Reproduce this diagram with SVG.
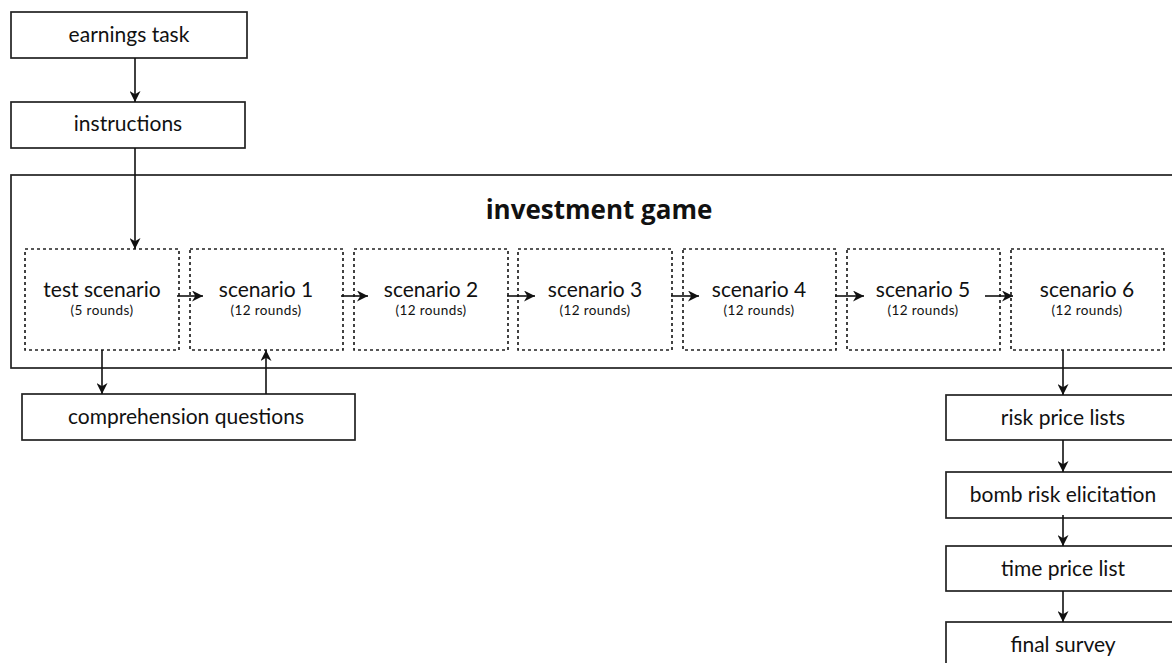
<svg xmlns="http://www.w3.org/2000/svg" width="1172" height="663" viewBox="0 0 1172 663">
<style>
.box{fill:#fff;stroke:#222;stroke-width:1.7}
.dbox{fill:none;stroke:#222;stroke-width:1.7;stroke-dasharray:3 3}
.conn{fill:none;stroke:#111;stroke-width:1.6;marker-end:url(#ah)}
.t{font-family:Lato,"Open Sans",sans-serif;font-size:21px;fill:#111;text-anchor:middle}
.s{font-family:Lato,"Open Sans",sans-serif;font-size:13.5px;letter-spacing:0.4px;fill:#111;text-anchor:middle}
.h{font-family:"Open Sans",Lato,sans-serif;font-size:26px;font-weight:bold;fill:#111;text-anchor:middle}
</style>
<defs>
<marker id="ah" viewBox="0 0 10 10" refX="10" refY="5" markerWidth="11" markerHeight="11" markerUnits="userSpaceOnUse" orient="auto">
<path d="M0,0 L10,5 L0,10 L3,5 z" fill="#111"/>
</marker>
</defs>
<rect width="1172" height="663" fill="#fff"/>
<g id="investment-game">
<rect class="box" x="11" y="175" width="1175" height="193"/>
<text class="h" x="599" y="219">investment game</text>
</g>
<g id="earnings-task">
<rect class="box" x="11" y="12" width="236" height="46"/>
<text class="t" x="129" y="42">earnings task</text>
</g>
<g id="instructions">
<rect class="box" x="11" y="102" width="234" height="46"/>
<text class="t" x="128" y="131">instructions</text>
</g>
<g id="test-scenario">
<rect class="dbox" x="25" y="249" width="154" height="101"/>
<text class="t" x="102" y="297">test scenario</text>
<text class="s" x="102" y="315">(5 rounds)</text>
</g>
<g id="scenario-1">
<rect class="dbox" x="190" y="249" width="153" height="101"/>
<text class="t" x="266" y="297">scenario 1</text>
<text class="s" x="266" y="315">(12 rounds)</text>
</g>
<g id="scenario-2">
<rect class="dbox" x="354" y="249" width="154" height="101"/>
<text class="t" x="431" y="297">scenario 2</text>
<text class="s" x="431" y="315">(12 rounds)</text>
</g>
<g id="scenario-3">
<rect class="dbox" x="518" y="249" width="154" height="101"/>
<text class="t" x="595" y="297">scenario 3</text>
<text class="s" x="595" y="315">(12 rounds)</text>
</g>
<g id="scenario-4">
<rect class="dbox" x="683" y="249" width="153" height="101"/>
<text class="t" x="759" y="297">scenario 4</text>
<text class="s" x="759" y="315">(12 rounds)</text>
</g>
<g id="scenario-5">
<rect class="dbox" x="847" y="249" width="153" height="101"/>
<text class="t" x="923" y="297">scenario 5</text>
<text class="s" x="923" y="315">(12 rounds)</text>
</g>
<g id="scenario-6">
<rect class="dbox" x="1011" y="249" width="153" height="101"/>
<text class="t" x="1087" y="297">scenario 6</text>
<text class="s" x="1087" y="315">(12 rounds)</text>
</g>
<g id="comprehension-questions">
<rect class="box" x="22" y="394" width="333" height="46"/>
<text class="t" x="186" y="424">comprehension questions</text>
</g>
<g id="risk-price-lists">
<rect class="box" x="946" y="395" width="234" height="45"/>
<text class="t" x="1063" y="425">risk price lists</text>
</g>
<g id="bomb-risk-elicitation">
<rect class="box" x="946" y="472" width="234" height="46"/>
<text class="t" x="1063" y="502">bomb risk elicitation</text>
</g>
<g id="time-price-list">
<rect class="box" x="946" y="546" width="234" height="45"/>
<text class="t" x="1063" y="576">time price list</text>
</g>
<g id="final-survey">
<rect class="box" x="946" y="622" width="234" height="50"/>
<text class="t" x="1063" y="652">final survey</text>
</g>
<g id="connectors">
<path class="conn" d="M135,58 V102"/>
<path class="conn" d="M135,148 V249"/>
<path class="conn" d="M177,296 H203"/>
<path class="conn" d="M341,296 H368"/>
<path class="conn" d="M507,296 H535"/>
<path class="conn" d="M671,296 H699"/>
<path class="conn" d="M835,296 H864"/>
<path class="conn" d="M985,296 H1013"/>
<path class="conn" d="M102,350 V394"/>
<path class="conn" d="M266,394 V350"/>
<path class="conn" d="M1063,350 V395"/>
<path class="conn" d="M1063,440 V472"/>
<path class="conn" d="M1063,515 V546"/>
<path class="conn" d="M1063,591 V622"/>
</g>
</svg>
